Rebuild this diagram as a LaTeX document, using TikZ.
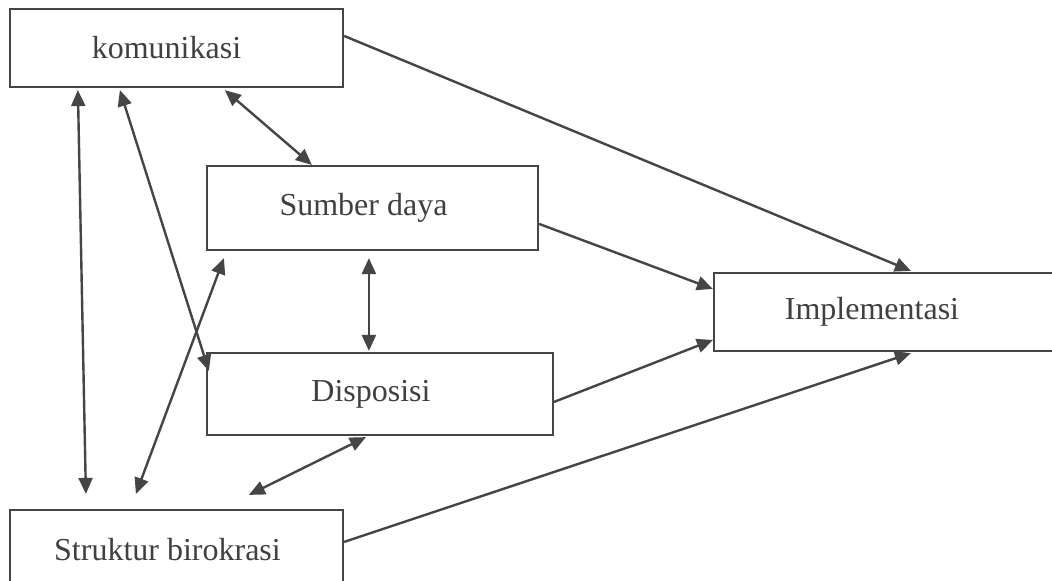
\documentclass[tikz,border=0pt]{standalone}
\usepackage{fontspec}
\setmainfont{Liberation Serif}
\usetikzlibrary{arrows.meta,calc}
\definecolor{linegray}{HTML}{454545}
\definecolor{textgray}{HTML}{404040}
\tikzset{
  box/.style={draw=linegray, line width=1.1pt, rectangle, fill=white, text=textgray,
    font=\fontsize{16}{19}\selectfont, inner sep=0pt},
  conn/.style={draw=linegray, line width=1.2pt, -{Triangle[length=8pt,width=7pt]}},
  bconn/.style={draw=linegray, line width=1.2pt, {Triangle[length=8pt,width=7pt]}-{Triangle[length=8pt,width=7pt]}}
}
\begin{document}
\begin{tikzpicture}[x=0.5pt,y=-0.5pt]
\clip (0,0) rectangle (1052,580);
\fill[white] (0,0) rectangle (1052,580);
\node[box, minimum width=166.5pt, minimum height=39pt] (kom) at (176.5,48) {\hspace*{-10pt}komunikasi};
\node[box, minimum width=165.5pt, minimum height=42pt] (sum) at (372.5,208) {\hspace*{-9pt}Sumber daya};
\node[box, minimum width=173pt, minimum height=41pt] (dis) at (380,394) {\hspace*{-9pt}Disposisi};
\node[box, minimum width=173pt, minimum height=39pt] (imp) at (887,312) {\hspace*{-15pt}\raisebox{-2pt}{Implementasi}};
\node[box, minimum width=166.5pt, minimum height=40pt] (str) at (176.5,550) {\hspace*{-9pt}Struktur birokrasi};
% to Implementasi
\draw[conn] ($(kom.north east)+(0,28)$) -- ($(imp.north west)+(198,-1)$);
\draw[conn] ($(sum.north east)+(0,59)$) -- ($(imp.north west)+(0,17)$);
\draw[conn] ($(dis.north east)+(0,50)$) -- ($(imp.north west)+(0,68)$);
\draw[conn] ($(str.north east)+(0,33)$) -- ($(imp.south west)+(198,1)$);
% double arrows
\draw[bconn] ($(kom.south west)+(216,2)$) -- ($(sum.north west)+(106,0)$);
\draw[bconn] ($(sum.south west)+(163,7)$) -- ($(dis.north west)+(163,-1)$);
\draw[bconn] ($(kom.south west)+(69,2)$) -- ($(str.north west)+(77,-15)$);
\draw[bconn] ($(kom.south west)+(111,2)$) -- ($(dis.north west)+(3,19)$);
\draw[bconn] ($(str.north west)+(127,-15)$) -- ($(sum.south west)+(18,7)$);
\draw[bconn] ($(str.north west)+(240,-14)$) -- ($(dis.south west)+(160,1)$);
\end{tikzpicture}
\end{document}
